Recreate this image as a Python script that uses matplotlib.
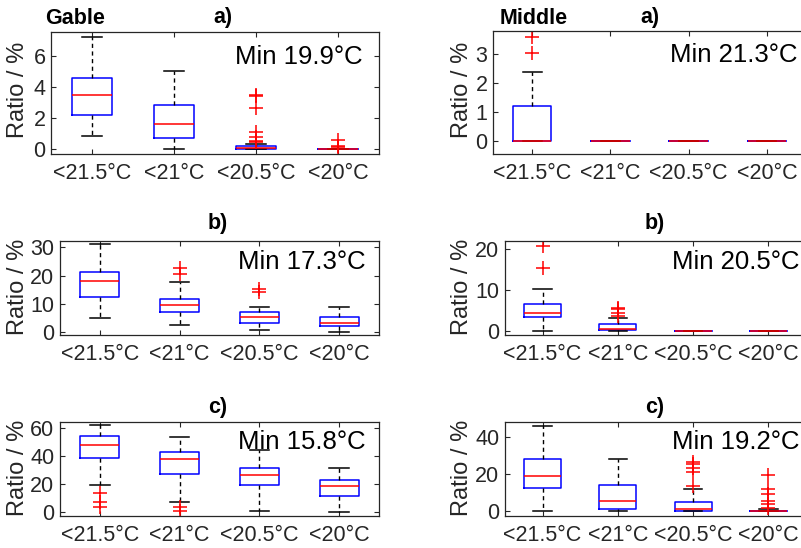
import matplotlib
matplotlib.use("Agg")
import matplotlib.pyplot as plt

plt.rcParams['font.family'] = ['Liberation Sans', 'DejaVu Sans']

categories = ['<21.5°C', '<21°C', '<20.5°C', '<20°C']

# ---- Gable a)
ga_whislo = [0.8, 0.0, 0.0, 0.0]
ga_q1 = [2.15, 0.7, 0.0, 0.0]
ga_med = [3.5, 1.6, 0.05, 0.0]
ga_q3 = [4.6, 2.85, 0.2, 0.0]
ga_whishi = [7.25, 5.0, 0.3, 0.0]
ga_fliers = [[], [], [0.4, 0.5, 0.75, 1.1, 2.6, 3.4, 3.5], [0.1, 0.2, 0.55]]

# ---- Middle a)
ma_whislo = [0.0, 0.0, 0.0, 0.0]
ma_q1 = [0.0, 0.0, 0.0, 0.0]
ma_med = [0.0, 0.0, 0.0, 0.0]
ma_q3 = [1.2, 0.0, 0.0, 0.0]
ma_whishi = [2.4, 0.0, 0.0, 0.0]
ma_fliers = [[3.05, 3.6], [], [], []]

# ---- Gable b)
gb_whislo = [4.8, 2.2, 0.5, 0.0]
gb_q1 = [12.3, 6.9, 3.0, 1.9]
gb_med = [18.2, 9.6, 5.1, 3.2]
gb_q3 = [21.4, 11.6, 7.0, 5.2]
gb_whishi = [31.3, 17.7, 8.8, 8.8]
gb_fliers = [[], [20.4, 22.8], [14.3, 15.3], []]

# ---- Middle b)
mb_whislo = [0.0, 0.0, 0.0, 0.0]
mb_q1 = [3.3, 0.2, 0.0, 0.0]
mb_med = [4.4, 0.3, 0.0, 0.0]
mb_q3 = [6.6, 1.6, 0.0, 0.0]
mb_whishi = [10.2, 3.0, 0.0, 0.0]
mb_fliers = [[15.4, 20.8], [3.7, 4.4, 5.2, 5.6], [], []]

# ---- Gable c)
gc_whislo = [19.8, 7.1, 0.9, 0.0]
gc_q1 = [38.7, 27.4, 19.3, 11.4]
gc_med = [48.1, 37.9, 26.6, 19.0]
gc_q3 = [54.2, 43.0, 31.9, 22.9]
gc_whishi = [62.1, 53.7, 44.3, 31.7]
gc_fliers = [[3.5, 7.4, 14.0], [1.0, 3.8], [], []]

# ---- Middle c)
mc_whislo = [0.0, 0.0, 0.0, 0.0]
mc_q1 = [12.4, 1.2, 0.2, 0.0]
mc_med = [18.9, 5.6, 1.0, 0.0]
mc_q3 = [28.2, 14.2, 5.3, 0.3]
mc_whishi = [46.2, 28.3, 11.9, 1.0]
mc_fliers = [[], [], [13.8, 21.2, 23.3, 25.5, 26.8], [2.0, 4.0, 5.5, 9.3, 12.0, 19.4]]

min_texts = ['Min 19.9°C', 'Min 21.3°C', 'Min 17.3°C', 'Min 20.5°C', 'Min 15.8°C', 'Min 19.2°C']

W, H = 801, 548
fig = plt.figure(figsize=(W / 100, H / 100), dpi=100)

def rect(x0, y0, x1, y1):
    return [x0 / W, 1 - y1 / H, (x1 - x0) / W, (y1 - y0) / H]

def fpos(x, y):
    return x / W, 1 - y / H

panels = [
    dict(data=(ga_whislo, ga_q1, ga_med, ga_q3, ga_whishi, ga_fliers), box=(51, 32, 379, 154),
         ylim=(-0.35, 7.55), yticks=[0, 2, 4, 6], mint=min_texts[0], minpos=(363, 57),
         ylab=(18, 90), title=('a)', 223, 18)),
    dict(data=(ma_whislo, ma_q1, ma_med, ma_q3, ma_whishi, ma_fliers), box=(493, 31, 806, 154),
         ylim=(-0.44, 3.8), yticks=[0, 1, 2, 3], mint=min_texts[1], minpos=(797, 55),
         ylab=(462, 90), title=('a)', 650, 18)),
    dict(data=(gb_whislo, gb_q1, gb_med, gb_q3, gb_whishi, gb_fliers), box=(60, 241, 379, 335),
         ylim=(-1.2, 32.3), yticks=[0, 10, 20, 30], mint=min_texts[2], minpos=(366, 262),
         ylab=(18, 287), title=('b)', 218, 223)),
    dict(data=(mb_whislo, mb_q1, mb_med, mb_q3, mb_whishi, mb_fliers), box=(505, 241, 806, 335),
         ylim=(-1.06, 22.0), yticks=[0, 10, 20], mint=min_texts[3], minpos=(799, 262),
         ylab=(462, 287), title=('b)', 655, 223)),
    dict(data=(gc_whislo, gc_q1, gc_med, gc_q3, gc_whishi, gc_fliers), box=(60, 422, 379, 516),
         ylim=(-2.6, 64.5), yticks=[0, 20, 40, 60], mint=min_texts[4], minpos=(366, 442),
         ylab=(18, 468), title=('c)', 218, 407)),
    dict(data=(mc_whislo, mc_q1, mc_med, mc_q3, mc_whishi, mc_fliers), box=(505, 422, 806, 516),
         ylim=(-2.5, 48.1), yticks=[0, 20, 40], mint=min_texts[5], minpos=(799, 442),
         ylab=(462, 468), title=('c)', 655, 407)),
]

gray = '#262626'
for p in panels:
    ax = fig.add_axes(rect(*p['box']))
    whislo, q1, med, q3, whishi, fliers = p['data']
    stats = []
    for i in range(len(categories)):
        stats.append(dict(whislo=whislo[i], q1=q1[i], med=med[i], q3=q3[i],
                          whishi=whishi[i], fliers=fliers[i], label=categories[i]))
    ax.bxp(stats, positions=range(1, 5), widths=0.49, showfliers=True,
           boxprops=dict(color='#0000ff', linewidth=1.1),
           medianprops=dict(color='#ff0000', linewidth=1.1),
           whiskerprops=dict(color='black', linewidth=1.0, linestyle=(0, (3, 2.5))),
           capprops=dict(color='black', linewidth=1.1),
           capwidths=0.245,
           flierprops=dict(marker='+', markeredgecolor='#ff0000', markersize=10,
                           markeredgewidth=1.1, linestyle='none'))
    ax.set_xlim(0.5, 4.5)
    ax.set_ylim(*p['ylim'])
    ax.set_yticks(p['yticks'])
    ax.set_xticks(range(1, 5))
    ax.set_xticklabels(categories)
    for s in ax.spines.values():
        s.set_color(gray)
        s.set_linewidth(0.9)
    ax.tick_params(direction='in', top=True, right=True, length=3.5, width=0.8,
                   colors=gray, labelsize=15.5, pad=6.5)
    ax.tick_params(axis='y', pad=4)
    x, y = fpos(*p['minpos'])
    fig.text(x, y, p['mint'], ha='right', va='center', fontsize=18.5, color='black')
    x, y = fpos(*p['ylab'])
    fig.text(x, y, 'Ratio / %', rotation=90, ha='center', va='center', fontsize=17, color=gray)
    t, tx, ty = p['title']
    x, y = fpos(tx, ty)
    fig.text(x, y, t, ha='center', va='center', fontsize=15.5, fontweight='bold')

x, y = fpos(45, 18)
fig.text(x, y, 'Gable', ha='left', va='center', fontsize=15.5, fontweight='bold')
x, y = fpos(500, 18)
fig.text(x, y, 'Middle', ha='left', va='center', fontsize=15.5, fontweight='bold')

fig.savefig('out.png', dpi=100)
